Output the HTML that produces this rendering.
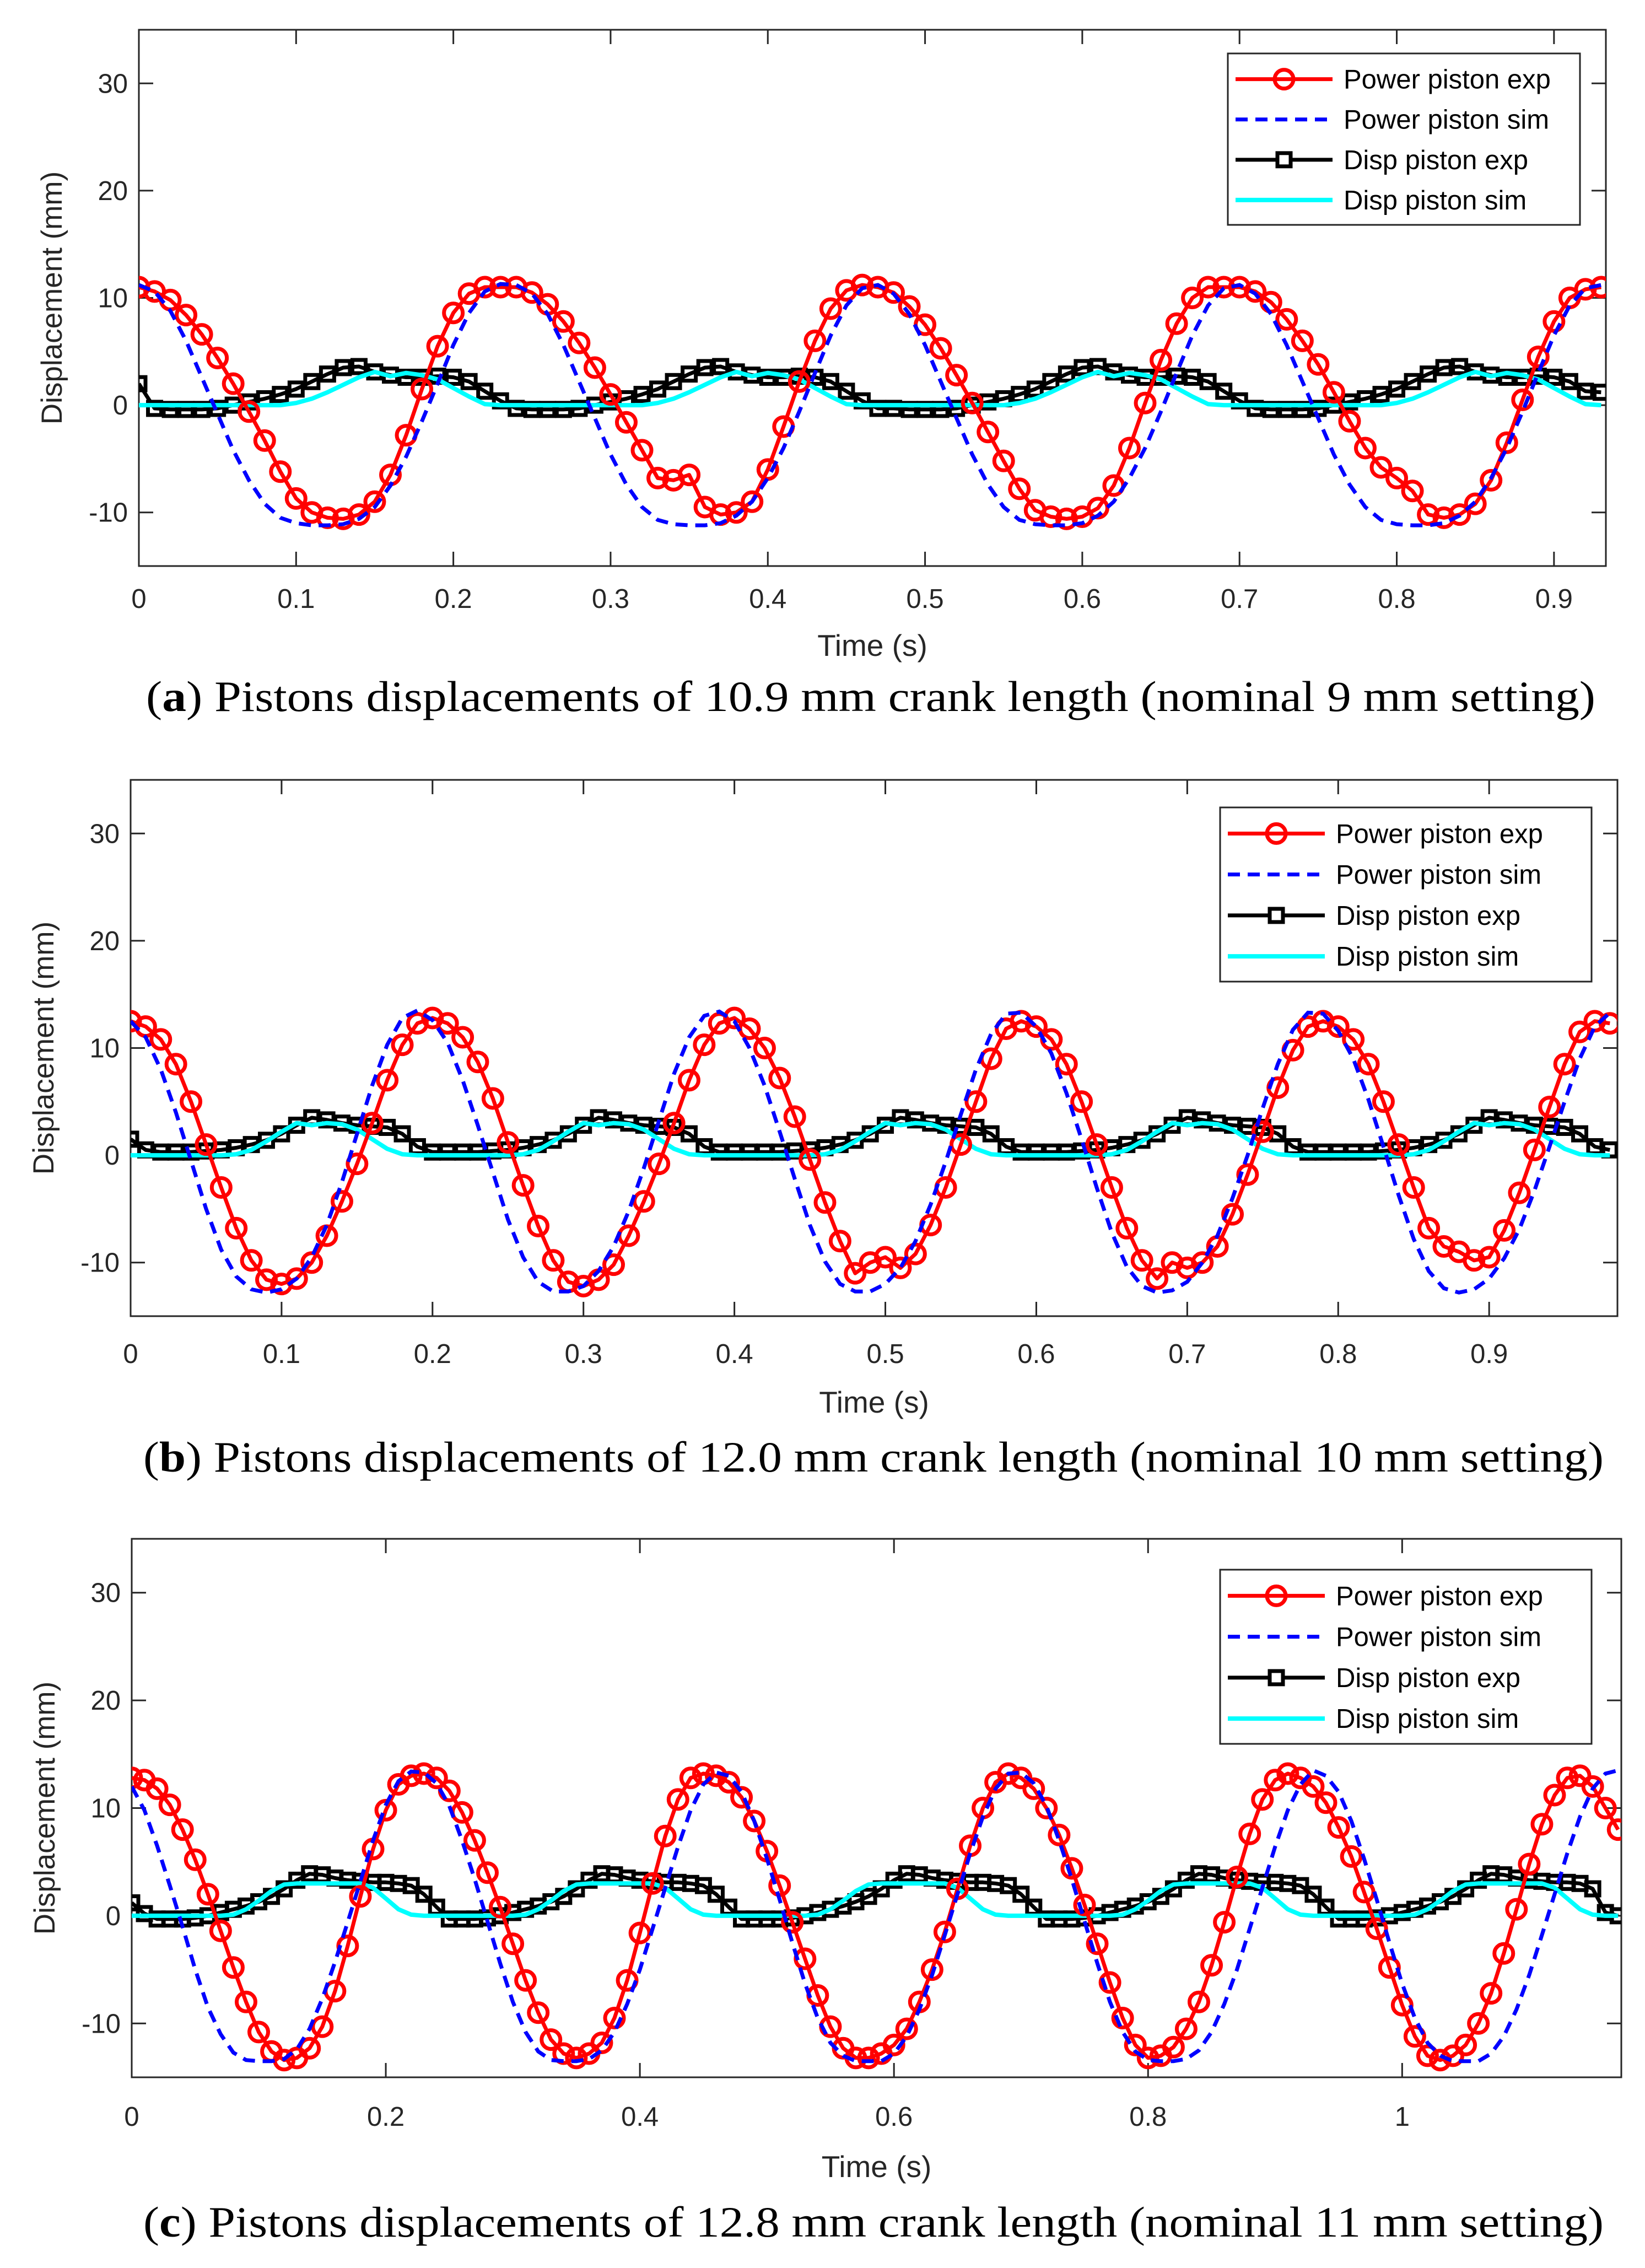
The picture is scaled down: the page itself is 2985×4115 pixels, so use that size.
<!DOCTYPE html>
<html><head><meta charset="utf-8"><style>
html,body{margin:0;padding:0;background:#fff;}
svg{display:block;}
</style></head><body>
<svg id="fig" xmlns="http://www.w3.org/2000/svg" width="2985" height="4115" viewBox="0 0 2985 4115"></svg>
<script>
// ---------- Panel (a) data ----------
const aStep = 0.01;
const aPowerExp = [11,10.6,9.8,8.4,6.6,4.4,2,-0.6,-3.3,-6.2,-8.7,-10,-10.5,-10.6,-10.2,-9,-6.5,-2.8,1.5,5.5,8.6,10.4,11,11,
11,10.5,9.4,7.8,5.8,3.5,1,-1.6,-4.2,-6.8,-7,-6.5,-9.5,-10.2,-10,-9,-6,-2,2.2,6,9,10.7,11.2,
11,10.5,9.2,7.5,5.3,2.8,0.2,-2.5,-5.2,-7.8,-9.8,-10.4,-10.6,-10.4,-9.6,-7.5,-4,0.2,4.2,7.6,10,11,11,11,
10.6,9.6,8,6,3.8,1.2,-1.5,-4,-5.8,-6.8,-8,-10.2,-10.5,-10.2,-9.2,-7,-3.5,0.5,4.5,7.8,10,10.8,11];
const aPowerSim = [11.2,10.6,8.8,6,2.6,-0.8,-4.2,-7,-9.2,-10.5,-11,-11.2,-11.2,-11.1,-10.6,-9.5,-7.5,-4.8,-1.5,2,5.6,8.6,10.6,11.3,
11.2,10.4,8.5,5.6,2.2,-1.2,-4.6,-7.4,-9.5,-10.7,-11.1,-11.2,-11.2,-11,-10.3,-9,-6.8,-4,-0.6,3,6.5,9.3,10.9,11.2,
10.4,8.5,5.6,2.2,-1.2,-4.6,-7.4,-9.5,-10.7,-11.1,-11.2,-11.2,-11,-10.3,-9,-6.8,-4,-0.6,3,6.5,9.3,10.9,11.2,
10.4,8.5,5.6,2.2,-1.2,-4.6,-7.4,-9.5,-10.7,-11.1,-11.2,-11.2,-11,-10.3,-9,-6.8,-4,-0.6,3,6.5,9.3,10.9,11.2];
const aDispExp = [2,
-0.3,-0.4,-0.4,-0.4,-0.3,0,0.3,0.6,1,1.5,2.2,2.9,3.5,3.6,3.1,2.8,2.6,2.6,2.7,2.6,2.2,1.3,0.4,
-0.3,-0.4,-0.4,-0.4,-0.3,0,0.3,0.6,1,1.5,2.2,2.9,3.5,3.6,3.1,2.8,2.6,2.6,2.7,2.6,2.2,1.3,0.4,
-0.3,-0.3,-0.4,-0.4,-0.4,-0.3,0,0.3,0.6,1,1.5,2.2,2.9,3.5,3.6,3.1,2.8,2.6,2.6,2.7,2.6,2.2,1.3,0.4,
-0.3,-0.4,-0.4,-0.4,-0.3,0,0.3,0.6,1,1.5,2.2,2.9,3.5,3.6,3.1,2.8,2.6,2.6,2.7,2.6,2.2,1.3,1.2];
const aDispSim = [0,0,0,0,0,0,0,0,0,0,
0.2,0.6,1.2,1.9,2.6,3.1,2.7,3,2.8,2.4,1.6,0.8,0.1,0,
0,0,0,0,0,0,0,0,0,
0.2,0.6,1.2,1.9,2.6,3.1,2.7,3,2.8,2.4,1.6,0.8,0.1,0,
0,0,0,0,0,0,0,0,0,
0.2,0.6,1.2,1.9,2.6,3.1,2.7,3,2.8,2.4,1.6,0.8,0.1,0,
0,0,0,0,0,0,0,0,0,0,
0.2,0.6,1.2,1.9,2.6,3.1,2.7,3,2.8,2.4,1.6,0.8,0.1,0];
const aXTicks = [0,0.1,0.2,0.3,0.4,0.5,0.6,0.7,0.8,0.9];
const aXTickLabels = ["0","0.1","0.2","0.3","0.4","0.5","0.6","0.7","0.8","0.9"];

// ---------- Panel (b) data ----------
const bStep = 0.01;
const bPowerExp = [12.5,12,10.8,8.5,5,1,-3,-6.8,-9.8,-11.6,-12,-11.5,-10,-7.5,-4.3,-0.8,3,7,10.3,12.3,
12.8,12.3,11,8.7,5.3,1.2,-2.8,-6.6,-9.8,-11.8,-12.2,-11.6,-10.2,-7.5,-4.3,-0.8,3,7,10.3,12.3,
12.8,11.8,10,7.2,3.6,-0.4,-4.4,-8,-11,-10,-9.5,-10.5,-9.2,-6.5,-3,1,5,9,11.8,
12.5,12,10.8,8.5,5,1,-3,-6.8,-9.8,-11.5,-10,-10.5,-10,-8.5,-5.5,-1.8,2.2,6.3,9.8,12,
12.5,12,10.8,8.5,5,1,-3,-6.8,-8.5,-9,-9.8,-9.5,-7,-3.5,0.5,4.5,8.5,11.5,12.5,12.3];
const bPowerSim = [12.5,11,8,4,-0.5,-5,-8.8,-11.3,-12.5,-12.8,-12.5,-11.5,-9.5,-6.5,-2.5,2,6.5,10.3,12.8,13.5,12.6,
10.5,7,2.8,-1.6,-6,-9.5,-11.8,-12.7,-12.7,-12.2,-10.8,-8.5,-5.2,-1.2,3.2,7.6,11,13,13.4,
12.5,10,6.5,2.2,-2.2,-6.5,-9.9,-12,-12.7,-12.7,-12,-10.5,-8,-4.6,-0.6,3.8,8,11.3,13.2,13.3,
12,9.5,5.8,1.5,-3,-7.2,-10.4,-12.2,-12.8,-12.6,-11.8,-10,-7.5,-4,0,4.4,8.5,11.7,13.3,13.2,
11.6,9,5.2,0.8,-3.7,-7.8,-10.8,-12.4,-12.8,-12.5,-11.5,-9.6,-6.9,-3.3,0.8,5,9,12,13.3];
const bDispExp = [1.5,0.5,0.3,0.3,0.3,0.4,0.5,0.7,1,1.4,2,2.8,3.5,3.3,3,2.8,2.7,2.6,2,0.8,
0.3,0.3,0.3,0.3,0.4,0.5,0.7,1,1.4,2,2.8,3.5,3.3,3,2.8,2.7,2.6,2,0.8,
0.3,0.3,0.3,0.3,0.3,0.4,0.5,0.7,1,1.4,2,2.8,3.5,3.3,3,2.8,2.7,2.6,2,0.8,
0.3,0.3,0.3,0.3,0.4,0.5,0.7,1,1.4,2,2.8,3.5,3.3,3,2.8,2.7,2.6,2,0.8,
0.3,0.3,0.3,0.3,0.3,0.4,0.5,0.7,1,1.4,2,2.8,3.5,3.3,3,2.8,2.7,2.6,2,0.8,0.5];
const bDispSim = [0,0,0,0,0,0,0,0.1,0.5,1.3,2.2,3,2.8,3,2.9,2.4,1.5,0.6,0.1,0,
0,0,0,0,0,0,0.1,0.5,1.3,2.2,3,2.8,3,2.9,2.4,1.5,0.6,0.1,0,
0,0,0,0,0,0,0,0.1,0.5,1.3,2.2,3,2.8,3,2.9,2.4,1.5,0.6,0.1,0,
0,0,0,0,0,0,0.1,0.5,1.3,2.2,3,2.8,3,2.9,2.4,1.5,0.6,0.1,0,
0,0,0,0,0,0,0,0.1,0.5,1.3,2.2,3,2.8,3,2.9,2.4,1.5,0.6,0.1,0,0];
const bXTicks = [0,0.1,0.2,0.3,0.4,0.5,0.6,0.7,0.8,0.9];
const bXTickLabels = ["0","0.1","0.2","0.3","0.4","0.5","0.6","0.7","0.8","0.9"];

// ---------- Panel (c) data ----------
const cStep = 0.01;
const cPowerExp = [12.8,12.6,11.8,10.3,8,5.2,2,-1.4,-4.8,-8,-10.8,-12.6,-13.4,-13.2,-12.3,-10.3,-7,-2.8,1.8,6.2,9.8,12.2,13,13.2,
12.8,11.6,9.6,7,4,0.8,-2.6,-6,-9,-11.5,-12.8,-13.2,-12.8,-11.8,-9.5,-6,-1.6,3,7.4,10.8,12.8,13.2,13,
12.4,11,8.8,6,2.8,-0.6,-4,-7.4,-10.3,-12.3,-13.2,-13.2,-12.8,-12,-10.5,-8,-5,-1.5,2.5,6.5,10,12.4,13.2,
12.8,11.8,10,7.5,4.4,1,-2.6,-6.2,-9.5,-12,-13.2,-13,-12.2,-10.5,-8,-4.6,-0.6,3.6,7.6,10.8,12.6,13.2,12.8,
12,10.5,8.2,5.5,2.2,-1.2,-4.8,-8.3,-11.2,-13,-13.4,-13,-12,-10,-7.2,-3.5,0.6,4.8,8.5,11.2,12.8,13,12,10,8];
const cPowerSim = [12,9.8,6.5,2.8,-1,-5,-8.5,-11,-12.7,-13.4,-13.5,-13.5,-13.3,-12.4,-10.5,-7.7,-4.3,-0.6,3.2,7,10.3,12.5,13.4,13.3,
12.3,10.2,7,3.4,-0.5,-4.4,-8,-10.8,-12.6,-13.4,-13.5,-13.5,-13.3,-12.5,-10.8,-8.2,-5,-1.2,2.6,6.4,9.8,12.2,13.3,
13,11.5,8.8,5.3,1.5,-2.5,-6.3,-9.5,-11.8,-13,-13.5,-13.5,-13.5,-12.8,-11.2,-8.7,-5.5,-1.8,2,5.8,9.2,11.8,13.2,
13.3,12.3,10.2,7,3.4,-0.5,-4.4,-8,-10.8,-12.6,-13.4,-13.5,-13.5,-13.3,-12.5,-10.8,-8.2,-5,-1.2,2.6,6.4,9.8,12.2,
13.5,13,11.5,8.8,5.3,1.5,-2.5,-6.3,-9.5,-11.8,-13,-13.5,-13.5,-13.5,-12.8,-11.2,-8.7,-5.5,-1.8,2,5.8,9.2,11.8,13.2,13.5];
const cDispExp = [1.2,0.2,
-0.3,-0.3,-0.3,-0.2,0,0.3,0.6,0.9,1.3,1.8,2.5,3.3,3.9,3.8,3.5,3.3,3.2,3.1,3.1,3,2.8,2,0.8,
-0.3,-0.3,-0.3,-0.2,0,0.3,0.6,0.9,1.3,1.8,2.5,3.3,3.9,3.8,3.5,3.3,3.2,3.1,3.1,3,2.8,2,0.8,
-0.3,-0.3,-0.3,-0.3,-0.2,0,0.3,0.6,0.9,1.3,1.8,2.5,3.3,3.9,3.8,3.5,3.3,3.2,3.1,3.1,3,2.8,2,0.8,
-0.3,-0.3,-0.3,-0.2,0,0.3,0.6,0.9,1.3,1.8,2.5,3.3,3.9,3.8,3.5,3.3,3.2,3.1,3.1,3,2.8,2,0.8,
-0.3,-0.3,-0.3,-0.2,0,0.3,0.6,0.9,1.3,1.8,2.5,3.3,3.9,3.8,3.5,3.3,3.2,3.1,3.1,3,2.5,0.3,0];
const cDispSim = [0,0,0,0,0,0,0,0,
0.1,0.6,1.4,2.3,2.9,3,3,3,3,3,3,2.6,1.6,0.6,0.1,
0,0,0,0,0,0,0,0,
0.1,0.6,1.4,2.3,2.9,3,3,3,3,3,3,2.6,1.6,0.6,0.1,
0,0,0,0,0,0,0,0,
0.1,0.6,1.4,2.3,2.9,3,3,3,3,3,3,2.6,1.6,0.6,0.1,
0,0,0,0,0,0,0,0,0,
0.1,0.6,1.4,2.3,2.9,3,3,3,3,3,3,2.6,1.6,0.6,0.1,
0,0,0,0,0,0,0,0,
0.1,0.6,1.4,2.3,2.9,3,3,3,3,3,3,2.6,1.6,0.6,0.1,
0,0];
const cXTicks = [0,0.2,0.4,0.6,0.8,1];
const cXTickLabels = ["0","0.2","0.4","0.6","0.8","1"];

const yTicks = [-10,0,10,20,30];
const yTickLabels = ["-10","0","10","20","30"];
const legendLabels = ["Power piston exp","Power piston sim","Disp piston exp","Disp piston sim"];

const NS = "http://www.w3.org/2000/svg";
const svg = document.getElementById('fig');
function mk(tag, attrs, parent){
  const e = document.createElementNS(NS, tag);
  for (const k in attrs) e.setAttribute(k, attrs[k]);
  (parent||svg).appendChild(e);
  return e;
}

function drawPanel(p){
  const g = mk('g', {});
  
  
  const X = v => p.L + (v - 0) / (p.xmax - 0) * (p.R - p.L);
  const Y = v => p.B - (v - (-15)) / 50 * (p.B - p.T);

  const clipId = 'clip' + p.id;
  const cp = mk('clipPath', {id: clipId}, g);
  mk('rect', {x:p.L, y:p.T, width:p.R-p.L, height:p.B-p.T}, cp);

  const box = mk('rect', {x:p.L, y:p.T, width:p.R-p.L, height:p.B-p.T, fill:'#fff', stroke:'#262626', 'stroke-width':3}, g);
  
  

  p.xt.forEach((v, i) => {
    const x = X(v);
    mk('line', {x1:x, y1:p.B, x2:x, y2:p.B-26, stroke:'#262626', 'stroke-width':3}, g);
    mk('line', {x1:x, y1:p.T, x2:x, y2:p.T+26, stroke:'#262626', 'stroke-width':3}, g);
    const t = mk('text', {x:x, y:p.tickY, 'text-anchor':'middle', 'font-family':'Liberation Sans, sans-serif', 'font-size':49, fill:'#262626'}, g);
    t.textContent = p.xl[i];
    
    
  });
  yTicks.forEach((v, i) => {
    const y = Y(v);
    mk('line', {x1:p.L, y1:y, x2:p.L+26, y2:y, stroke:'#262626', 'stroke-width':3}, g);
    mk('line', {x1:p.R, y1:y, x2:p.R-26, y2:y, stroke:'#262626', 'stroke-width':3}, g);
    const t = mk('text', {x:p.L-20, y:y+17, 'text-anchor':'end', 'font-family':'Liberation Sans, sans-serif', 'font-size':49, fill:'#262626'}, g);
    t.textContent = yTickLabels[i];
    
    
  });
  const cy = (p.T + p.B) / 2;
  const yt = mk('text', {x:0, y:0, transform:`translate(${p.L-140},${cy}) rotate(-90)`, 'text-anchor':'middle', 'font-family':'Liberation Sans, sans-serif', 'font-size':53, fill:'#262626'}, g);
  yt.textContent = 'Displacement (mm)';
  
  
  const xt = mk('text', {x:(p.L+p.R)/2, y:p.timeY, 'text-anchor':'middle', 'font-family':'Liberation Sans, sans-serif', 'font-size':55, fill:'#262626'}, g);
  xt.textContent = 'Time (s)';
  
  

  const sg = mk('g', {'clip-path':`url(#${clipId})`}, g);
  const pts = arr => arr.map((v, i) => `${X(i*p.step).toFixed(1)},${Y(v).toFixed(1)}`).join(' ');

  const dExp = mk('polyline', {points:pts(p.dispExp), fill:'none', stroke:'#000', 'stroke-width':7, 'stroke-linejoin':'round'}, sg);
  
  
  p.dispExp.forEach((v, i) => {
    const sq = mk('rect', {x:X(i*p.step)-12, y:Y(v)-12, width:24, height:24, fill:'none', stroke:'#000', 'stroke-width':7}, sg);
    
    
  });
  const dSim = mk('polyline', {points:pts(p.dispSim), fill:'none', stroke:'#00ffff', 'stroke-width':8, 'stroke-linejoin':'round'}, sg);
  
  

  const pExp = mk('polyline', {points:pts(p.powerExp), fill:'none', stroke:'#ff0000', 'stroke-width':7, 'stroke-linejoin':'round'}, sg);
  
  
  p.powerExp.forEach((v, i) => {
    const c = mk('circle', {cx:X(i*p.step), cy:Y(v), r:17, fill:'none', stroke:'#ff0000', 'stroke-width':7}, sg);
    
    
  });
  const pSim = mk('polyline', {points:pts(p.powerSim), fill:'none', stroke:'#0000ff', 'stroke-width':7, 'stroke-dasharray':'22 14'}, sg);
  
  

  const lg = mk('g', {}, g);
  
  
  mk('rect', {x:p.lx, y:p.ly, width:p.lw, height:p.lh, fill:'#fff', stroke:'#262626', 'stroke-width':3}, lg);
  legendLabels.forEach((lab, i) => {
    const ry = p.ly + p.lh*(0.15 + i*0.235);
    const x1 = p.lx + 14, x2 = p.lx + 190;
    const e = mk('g', {}, lg);
    
    
    if (i === 0){
      mk('line', {x1:x1, y1:ry, x2:x2, y2:ry, stroke:'#ff0000', 'stroke-width':7}, e);
      mk('circle', {cx:(x1+x2)/2, cy:ry, r:17, fill:'none', stroke:'#ff0000', 'stroke-width':7}, e);
    } else if (i === 1){
      mk('line', {x1:x1, y1:ry, x2:x2, y2:ry, stroke:'#0000ff', 'stroke-width':7, 'stroke-dasharray':'22 14'}, e);
    } else if (i === 2){
      mk('line', {x1:x1, y1:ry, x2:x2, y2:ry, stroke:'#000', 'stroke-width':7}, e);
      mk('rect', {x:(x1+x2)/2-12, y:ry-12, width:24, height:24, fill:'#fff', stroke:'#000', 'stroke-width':7}, e);
    } else {
      mk('line', {x1:x1, y1:ry, x2:x2, y2:ry, stroke:'#00ffff', 'stroke-width':8}, e);
    }
    const t = mk('text', {x:x2+20, y:ry+17, 'font-family':'Liberation Sans, sans-serif', 'font-size':49, fill:'#000'}, e);
    t.textContent = lab;
  });

  const cap = mk('text', {x:p.capX, y:p.capY, 'text-anchor':'middle', 'font-family':'Liberation Serif, serif', 'font-size':78, fill:'#000', textLength:p.capW, lengthAdjust:'spacingAndGlyphs'}, g);
  
  
  const t1 = mk('tspan', {}, cap); t1.textContent = '(';
  const t2 = mk('tspan', {'font-weight':'bold'}, cap); t2.textContent = p.id;
  const t3 = mk('tspan', {}, cap); t3.textContent = ') ' + p.caption;
}

drawPanel({id:'a', L:252, R:2914, T:54, B:1027, xmax:0.933, step:aStep,
  powerExp:aPowerExp, powerSim:aPowerSim, dispExp:aDispExp, dispSim:aDispSim,
  xt:aXTicks, xl:aXTickLabels, tickY:1103, timeY:1190,
  lx:2228, ly:97, lw:639, lh:311,
  capX:1580, capY:1290, capW:2630,
  caption:'Pistons displacements of 10.9 mm crank length (nominal 9 mm setting)'});
drawPanel({id:'b', L:237, R:2935, T:1415, B:2388, xmax:0.985, step:bStep,
  powerExp:bPowerExp, powerSim:bPowerSim, dispExp:bDispExp, dispSim:bDispSim,
  xt:bXTicks, xl:bXTickLabels, tickY:2473, timeY:2563,
  lx:2214, ly:1465, lw:674, lh:316,
  capX:1585, capY:2670, capW:2650,
  caption:'Pistons displacements of 12.0 mm crank length (nominal 10 mm setting)'});
drawPanel({id:'c', L:239, R:2942, T:2792, B:3769, xmax:1.1725, step:cStep,
  powerExp:cPowerExp, powerSim:cPowerSim, dispExp:cDispExp, dispSim:cDispSim,
  xt:cXTicks, xl:cXTickLabels, tickY:3857, timeY:3950,
  lx:2214, ly:2848, lw:674, lh:316,
  capX:1585, capY:4058, capW:2650,
  caption:'Pistons displacements of 12.8 mm crank length (nominal 11 mm setting)'});
</script>
</body></html>
